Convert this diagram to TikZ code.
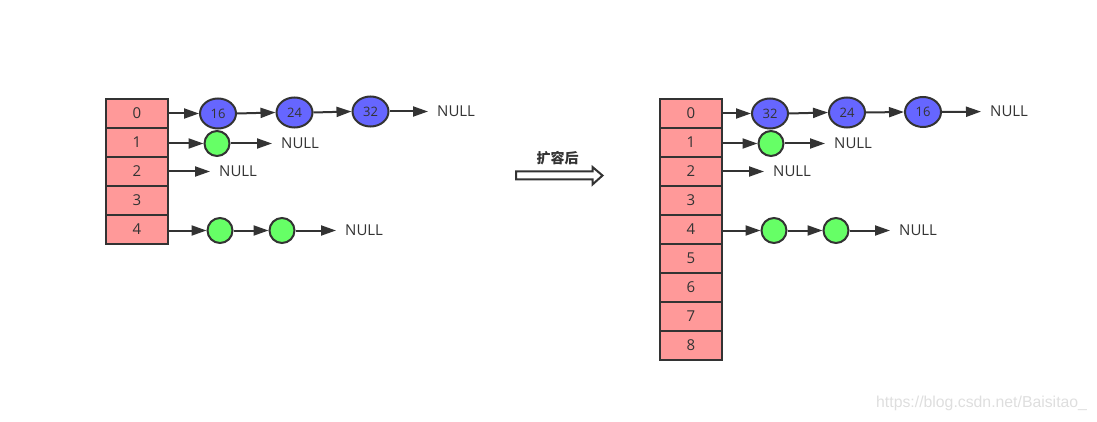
\documentclass[tikz,border=0pt]{standalone}
\usepackage{fontspec}
\setmainfont{Open Sans}
\newfontfamily\cjk{Noto Sans CJK SC}
\newfontfamily\wmfont{Liberation Sans}
\usetikzlibrary{arrows.meta,shapes.geometric}
\definecolor{ink}{HTML}{333333}
\definecolor{cellred}{HTML}{FF9999}
\definecolor{nodeblue}{HTML}{6666FF}
\definecolor{nodegreen}{HTML}{66FF66}
\begin{document}
\begin{tikzpicture}[x=1pt,y=-1pt,
  cell/.style={draw=ink,line width=2pt,fill=cellred,minimum width=62pt,minimum height=29pt,inner sep=0pt,text=ink,font=\fontsize{15}{15}\selectfont},
  bnode/.style={ellipse,draw=ink,line width=2pt,fill=nodeblue,minimum width=36pt,minimum height=30pt,inner sep=0pt,text=ink,font=\fontsize{13}{13}\selectfont},
  gnode/.style={circle,draw=ink,line width=2pt,fill=nodegreen,minimum size=25pt,inner sep=0pt},
  nulltxt/.style={anchor=west,inner sep=0pt,text=ink,font=\fontsize{15}{15}\selectfont},
  arr/.style={draw=ink,line width=2pt,-{Triangle[length=15pt,width=10pt]}},
  arrn/.style={arr,shorten >=9pt}
]
\useasboundingbox (0,0) rectangle (1097,422);
% left table
\foreach \i in {0,...,4} {
  \node[cell] (L\i) at (137,{113.5+29*\i}) {\i};
}
% right table
\foreach \i in {0,...,8} {
  \node[cell] (R\i) at (691,{113.5+29*\i}) {\i};
}
% left row 0
\node[bnode] (La) at (218,113.5) {16};
\node[bnode] (Lb) at (294.5,112.5) {24};
\node[bnode] (Lc) at (370.5,111.5) {32};
\node[nulltxt] (Ln0) at (437,111.5) {NULL};
\draw[arr] (La -| L0.east) -- (La.west);
\draw[arr] (La.east) -- (Lb.west);
\draw[arr] (Lb.east) -- (Lc.west);
\draw[arrn] (Lc.east) -- (Ln0.west);
% left row 1
\node[gnode] (Lg1) at (217,143.5) {};
\node[nulltxt] (Ln1) at (281,143.5) {NULL};
\draw[arr] (Lg1 -| L1.east) -- (Lg1.west);
\draw[arrn] (Lg1.east) -- (Ln1.west);
% left row 2
\node[nulltxt] (Ln2) at (219,171.5) {NULL};
\draw[arrn] (Ln2 -| L2.east) -- (Ln2.west);
% left row 4
\node[gnode] (Lg4a) at (220,230.5) {};
\node[gnode] (Lg4b) at (282,230.5) {};
\node[nulltxt] (Ln4) at (345,230.5) {NULL};
\draw[arr] (Lg4a -| L4.east) -- (Lg4a.west);
\draw[arr] (Lg4a.east) -- (Lg4b.west);
\draw[arrn] (Lg4b.east) -- (Ln4.west);

% right row 0
\node[bnode] (Ra) at (770,113.5) {32};
\node[bnode] (Rb) at (847,112.5) {24};
\node[bnode] (Rc) at (923,112) {16};
\node[nulltxt] (Rn0) at (990,111.5) {NULL};
\draw[arr] (Ra -| R0.east) -- (Ra.west);
\draw[arr] (Ra.east) -- (Rb.west);
\draw[arr] (Rb.east) -- (Rc.west);
\draw[arrn] (Rc.east) -- (Rn0.west);
% right row 1
\node[gnode] (Rg1) at (771,143.5) {};
\node[nulltxt] (Rn1) at (834,143.5) {NULL};
\draw[arr] (Rg1 -| R1.east) -- (Rg1.west);
\draw[arrn] (Rg1.east) -- (Rn1.west);
% right row 2
\node[nulltxt] (Rn2) at (773,171.5) {NULL};
\draw[arrn] (Rn2 -| R2.east) -- (Rn2.west);
% right row 4
\node[gnode] (Rg4a) at (774,230.5) {};
\node[gnode] (Rg4b) at (836,230.5) {};
\node[nulltxt] (Rn4) at (899,230.5) {NULL};
\draw[arr] (Rg4a -| R4.east) -- (Rg4a.west);
\draw[arr] (Rg4a.east) -- (Rg4b.west);
\draw[arrn] (Rg4b.east) -- (Rn4.west);

% middle label and hollow arrow
\node[text=ink,font=\cjk\bfseries\fontsize{14}{14}\selectfont] (lbl) at (557.5,158) {扩容后};
\draw[ink,line width=2pt,line join=miter,fill=white]
  (516,171.5) -- (592.5,171.5) -- (592.5,167) -- (602.5,175.5) -- (592.5,184.5) -- (592.5,179.5) -- (516,179.5) -- cycle;

% watermark
\node[anchor=west,inner sep=0pt,text=black!13,font=\wmfont\fontsize{15.8}{15.8}\selectfont] (wm) at (876,403) {https://blog.csdn.net/Baisitao\_};
\end{tikzpicture}
\end{document}
